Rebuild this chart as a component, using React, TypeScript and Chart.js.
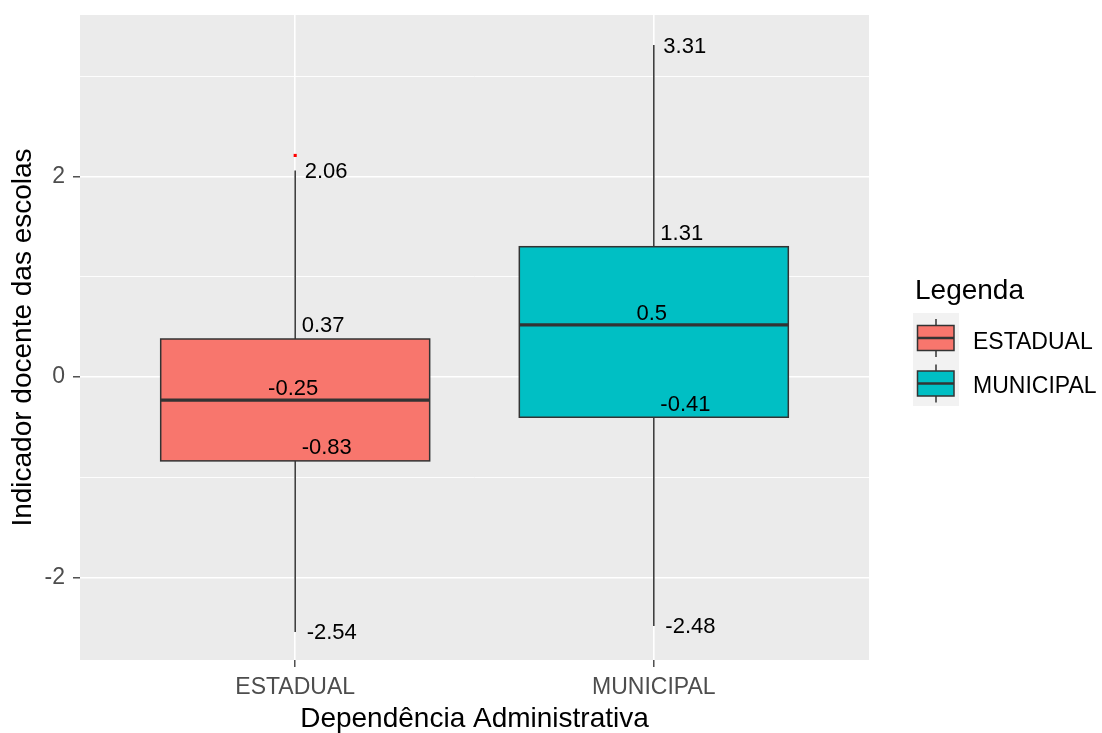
import React, { useEffect, useRef } from "react";
import { Chart, registerables } from "chart.js";

Chart.register(...registerables);

// ---- data ----
const categories = ["ESTADUAL", "MUNICIPAL"];
const whiskerLow = [-2.54, -2.48];
const q1 = [-0.835, -0.4];
const median = [-0.23, 0.52];
const q3 = [0.38, 1.3];
const whiskerHigh = [2.06, 3.31];
const outlierX = [1];
const outlierY = [2.21];

const lowLabels = ["-2.54", "-2.48"];
const q1Labels = ["-0.83", "-0.41"];
const medianLabels = ["-0.25", "0.5"];
const q3Labels = ["0.37", "1.31"];
const highLabels = ["2.06", "3.31"];

const yGridValues = [-2, -1, 0, 1, 2, 3];
const yMin = -2.82;
const yMax = 3.61;

const fillColors = ["#F8766D", "#00BFC4"];
const legendTitle = "Legenda";
const xTitle = "Dependência Administrativa";
const yTitle = "Indicador docente das escolas";

const FONT = '"Liberation Sans", Arial, Helvetica, sans-serif';
const BOX_HALF = 0.375;

const boxPlugin = {
  id: "boxes",
  beforeDraw(chart: any) {
    const { ctx, chartArea } = chart;
    ctx.save();
    ctx.fillStyle = "#EBEBEB";
    ctx.fillRect(chartArea.left, chartArea.top, chartArea.right - chartArea.left, chartArea.bottom - chartArea.top);
    ctx.restore();
  },
  afterDatasetsDraw(chart: any) {
    const { ctx } = chart;
    const xs = chart.scales.x;
    const ys = chart.scales.y;
    ctx.save();
    categories.forEach((_, i) => {
      const x = xs.getPixelForValue(i + 1);
      const x0 = xs.getPixelForValue(i + 1 - BOX_HALF);
      const x1 = xs.getPixelForValue(i + 1 + BOX_HALF);
      const yLo = ys.getPixelForValue(whiskerLow[i]);
      const yQ1 = ys.getPixelForValue(q1[i]);
      const yMed = ys.getPixelForValue(median[i]);
      const yQ3 = ys.getPixelForValue(q3[i]);
      const yHi = ys.getPixelForValue(whiskerHigh[i]);
      ctx.strokeStyle = "#333333";
      ctx.lineWidth = 1.5;
      ctx.beginPath();
      ctx.moveTo(x, yHi);
      ctx.lineTo(x, yQ3);
      ctx.moveTo(x, yQ1);
      ctx.lineTo(x, yLo);
      ctx.stroke();
      ctx.fillStyle = fillColors[i];
      ctx.fillRect(x0, yQ3, x1 - x0, yQ1 - yQ3);
      ctx.strokeRect(x0, yQ3, x1 - x0, yQ1 - yQ3);
      ctx.lineWidth = 3.2;
      ctx.beginPath();
      ctx.moveTo(x0, yMed);
      ctx.lineTo(x1, yMed);
      ctx.stroke();

      ctx.fillStyle = "#000000";
      ctx.font = "22px " + FONT;
      ctx.textBaseline = "middle";
      ctx.textAlign = "left";
      ctx.fillText(highLabels[i], x + 9.5, yHi + 1.8);
      ctx.fillText(q3Labels[i], x + 6.5, yQ3 - 13.2);
      ctx.fillText(q1Labels[i], x + 6.5, yQ1 - 12.5);
      ctx.fillText(lowLabels[i], x + 11.5, yLo + 1.5);
      ctx.textAlign = "center";
      ctx.fillText(medianLabels[i], x - 2, yMed - 11);
    });
    ctx.restore();
  },
  afterDraw(chart: any) {
    const { ctx } = chart;
    ctx.save();
    ctx.fillStyle = "#000000";
    ctx.font = "28px " + FONT;
    ctx.textAlign = "left";
    ctx.textBaseline = "alphabetic";
    ctx.fillText(legendTitle, 915, 299);
    // key background
    ctx.fillStyle = "#F2F2F2";
    ctx.fillRect(913, 313, 46, 93);
    const keyCenters = [338, 383.5];
    const baselines = [349, 393];
    categories.forEach((name, i) => {
      const cy = keyCenters[i];
      const cx = 936;
      ctx.strokeStyle = "#333333";
      ctx.lineWidth = 1.5;
      ctx.beginPath();
      ctx.moveTo(cx, cy - 19);
      ctx.lineTo(cx, cy + 19);
      ctx.stroke();
      ctx.fillStyle = fillColors[i];
      ctx.fillRect(917.5, cy - 12.5, 36.5, 25);
      ctx.strokeRect(917.5, cy - 12.5, 36.5, 25);
      ctx.lineWidth = 2.5;
      ctx.beginPath();
      ctx.moveTo(917.5, cy);
      ctx.lineTo(954, cy);
      ctx.stroke();
      ctx.fillStyle = "#000000";
      ctx.font = "23px " + FONT;
      ctx.fillText(name, 973, baselines[i]);
    });
    ctx.restore();
  },
};

export default function App() {
  const ref = useRef<HTMLCanvasElement | null>(null);
  useEffect(() => {
    if (!ref.current) return;
    const chart = new Chart(ref.current, {
      type: "scatter",
      data: {
        datasets: [
          {
            label: "outliers",
            data: outlierX.map((x, i) => ({ x, y: outlierY[i] })),
            pointStyle: "rect",
            pointRadius: 2.2,
            pointBackgroundColor: "#FF0000",
            pointBorderColor: "#FF0000",
            pointBorderWidth: 0,
          },
        ],
      },
      options: {
        animation: false,
        responsive: false,
        devicePixelRatio: 1,
        layout: { padding: { left: 0, top: 15, right: 233, bottom: 0 } },
        plugins: { legend: { display: false }, tooltip: { enabled: false } },
        events: [],
        scales: {
          x: {
            type: "linear",
            min: 0.4,
            max: 2.6,
            afterBuildTicks: (scale: any) => {
              scale.ticks = categories.map((_, i) => ({ value: i + 1 }));
            },
            afterFit: (scale: any) => {
              scale.height = 73;
            },
            ticks: {
              callback: (v: any) => categories[Math.round(Number(v)) - 1] ?? "",
              color: "#4D4D4D",
              font: { family: FONT, size: 23 },
              padding: 7,
              maxRotation: 0,
              autoSkip: false,
            },
            grid: {
              color: "#FFFFFF",
              lineWidth: 1.6,
              tickLength: 7,
              tickColor: "#333333",
              tickWidth: 1.3,
            },
            border: { display: false },
            title: {
              display: true,
              text: xTitle,
              color: "#000000",
              font: { family: FONT, size: 28, lineHeight: 1 },
              padding: { top: 0, bottom: 0 },
            },
          },
          y: {
            type: "linear",
            min: yMin,
            max: yMax,
            afterBuildTicks: (scale: any) => {
              scale.ticks = yGridValues.map((v) => ({ value: v }));
            },
            afterFit: (scale: any) => {
              scale.width = 80;
            },
            ticks: {
              callback: (v: any) => (Number(v) % 2 === 0 ? String(v) : ""),
              color: "#4D4D4D",
              font: { family: FONT, size: 23, lineHeight: 0.5 },
              padding: 8,
              autoSkip: false,
            },
            grid: {
              color: "#FFFFFF",
              lineWidth: (c: any) => (c.tick && c.tick.value % 2 === 0 ? 1.6 : 0.9),
              tickLength: 7,
              tickColor: (c: any) => (c.tick && c.tick.value % 2 === 0 ? "#333333" : "rgba(0,0,0,0)"),
              tickWidth: 1.3,
            },
            border: { display: false },
            title: {
              display: true,
              text: yTitle,
              color: "#000000",
              font: { family: FONT, size: 28, lineHeight: 1 },
              padding: { top: 9.6, bottom: 0 },
            },
          },
        },
      },
      plugins: [boxPlugin],
    } as any);
    return () => chart.destroy();
  }, []);
  return (
    <div style={{ position: "fixed", left: 0, top: 0, width: 1102, height: 733, background: "#FFFFFF" }}>
      <canvas ref={ref} width={1102} height={733} style={{ display: "block", width: 1102, height: 733 }} />
    </div>
  );
}
